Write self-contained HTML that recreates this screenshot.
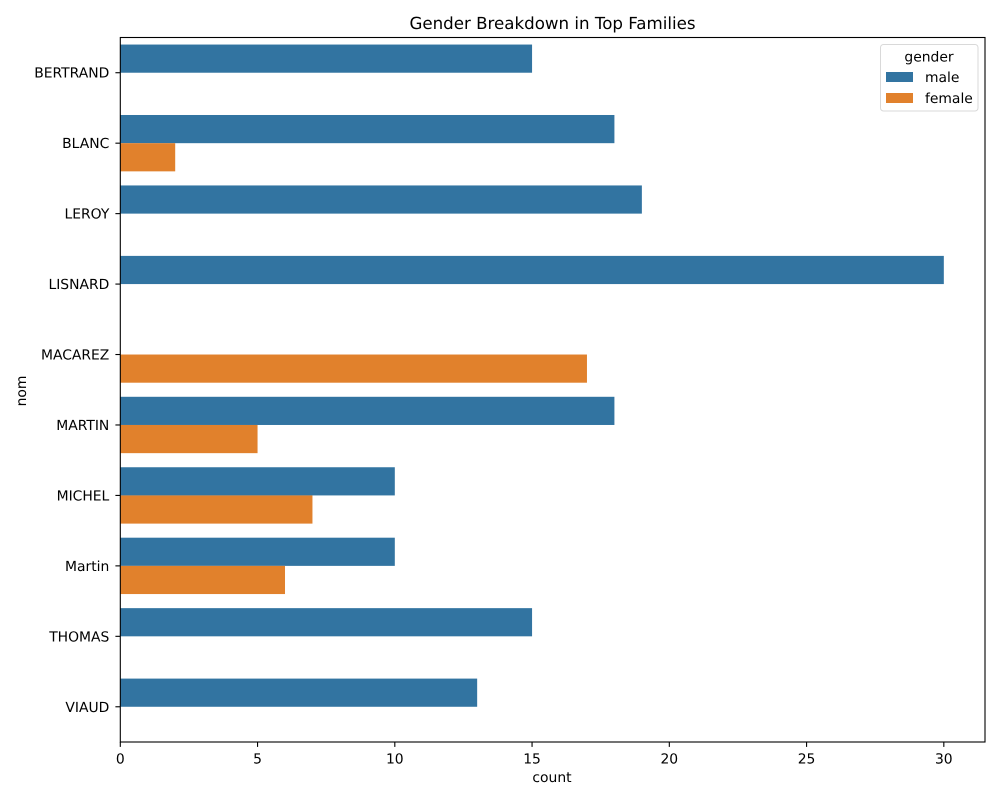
<!DOCTYPE html>
<html>
<head>
<meta charset="utf-8">
<title>Gender Breakdown in Top Families</title>
<style>
html,body{margin:0;padding:0;background:#fff;}
svg{display:block;font-family:"DejaVu Sans",sans-serif;text-rendering:geometricPrecision;}
</style>
</head>
<body>
<svg id="chart" xmlns="http://www.w3.org/2000/svg" width="1000" height="800" viewBox="0 0 1000 800"></svg>
<script>
const categories = ["BERTRAND","BLANC","LEROY","LISNARD","MACAREZ","MARTIN","MICHEL","Martin","THOMAS","VIAUD"];
const maleValues = [15,18,19,30,null,18,10,10,15,13];
const femaleValues = [null,2,null,null,17,5,7,6,null,null];
const xTicks = [0,5,10,15,20,25,30];
const seriesNames = ["male","female"];

const plotLeft = 120.3, plotRight = 985, plotTop = 37.5, plotBottom = 742;
const xMax = 31.5;
const colors = ["#3274a1","#e1812c"];
const svg = document.getElementById('chart');
const NS = 'http://www.w3.org/2000/svg';

function xScale(v){ return plotLeft + v * (plotRight - plotLeft) / xMax; }
function bandStep(){ return (plotBottom - plotTop) / categories.length; }
function yScale(i){ return plotTop + (i + 0.5) * bandStep(); }
function make(tag, attrs, text){
  const el = document.createElementNS(NS, tag);
  for (const k in attrs) el.setAttribute(k, attrs[k]);
  if (text !== undefined) el.textContent = text;
  svg.appendChild(el);
  return el;
}

const bg = make('rect', {x:0, y:0, width:1000, height:800, fill:'#fff'});



const barH = bandStep() * 0.4;
[maleValues, femaleValues].forEach(function(vals, s){
  vals.forEach(function(v, i){
    if (v === null) return;
    const bar = make('rect', {
      x: xScale(0),
      y: yScale(i) + (s === 0 ? -barH : 0),
      width: xScale(v) - xScale(0),
      height: barH,
      fill: colors[s]
    });
    
    
  });
});

xTicks.forEach(function(t){
  const px = xScale(t);
  const tick = make('line', {x1:px, x2:px, y1:plotBottom, y2:plotBottom + 4.9, stroke:'#000', 'stroke-width':1.1});
  
  
  const label = make('text', {x:px, y:plotBottom + 21.5, 'text-anchor':'middle', 'font-size':13.89, fill:'#000'}, String(t));
  
  
});

categories.forEach(function(c, i){
  const py = yScale(i);
  const tick = make('line', {x1:plotLeft - 4.9, x2:plotLeft, y1:py, y2:py, stroke:'#000', 'stroke-width':1.1});
  
  
  const label = make('text', {x:plotLeft - 11, y:py + 5, 'text-anchor':'end', 'font-size':13.89, fill:'#000'}, c);
  
  
});

const frame = make('rect', {x:plotLeft, y:plotTop, width:plotRight - plotLeft, height:plotBottom - plotTop, fill:'none', stroke:'#000', 'stroke-width':1.1});



const title = make('text', {x:552.5, y:29, 'text-anchor':'middle', 'font-size':16.67, fill:'#000'}, 'Gender Breakdown in Top Families');



const xTitle = make('text', {x:552, y:782, 'text-anchor':'middle', 'font-size':13.89, fill:'#000'}, 'count');



const yTitle = make('text', {x:0, y:0, transform:'translate(26,391) rotate(-90)', 'text-anchor':'middle', 'font-size':13.89, fill:'#000'}, 'nom');



const legendBox = make('rect', {x:880.5, y:44.5, width:97.5, height:66.5, rx:3, ry:3, fill:'#fff', 'fill-opacity':0.8, stroke:'#d9d9d9', 'stroke-width':1});



const legendTitle = make('text', {x:929, y:61.5, 'text-anchor':'middle', 'font-size':13.89, fill:'#000'}, 'gender');



seriesNames.forEach(function(n, s){
  const rowY = 72 + s * 21;
  const swatch = make('rect', {x:886, y:rowY, width:27, height:10, fill:colors[s]});
  
  
  const label = make('text', {x:925, y:rowY + 10, 'font-size':13.89, fill:'#000'}, n);
  
  
});
</script>
</body>
</html>
